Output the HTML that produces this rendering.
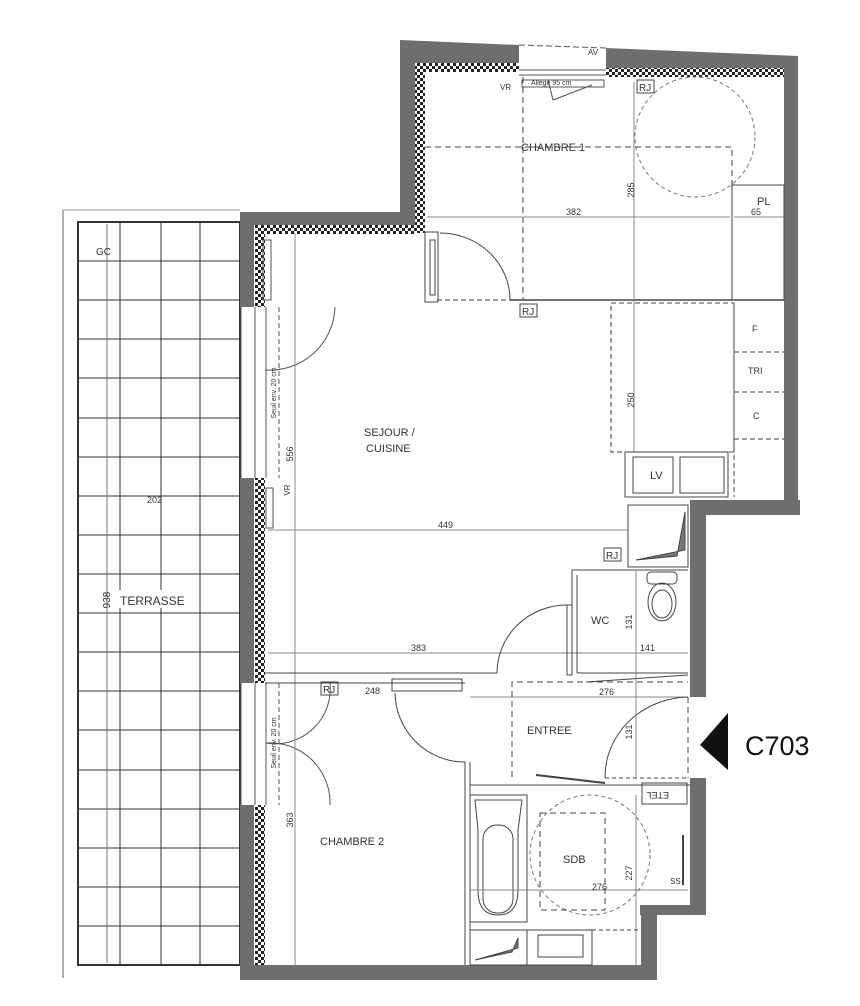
<!DOCTYPE html>
<html><head><meta charset="utf-8"><style>
html,body{margin:0;padding:0;background:#fff}
svg{display:block}
text{font-family:"Liberation Sans",sans-serif;fill:#333}
</style></head><body>
<svg width="860" height="1006" viewBox="0 0 860 1006" xmlns="http://www.w3.org/2000/svg">
<defs>
<pattern id="h" width="6" height="6" patternUnits="userSpaceOnUse">
<rect width="6" height="6" fill="#fff"/><rect width="3" height="3" fill="#222"/><rect x="3" y="3" width="3" height="3" fill="#222"/>
</pattern>
</defs>
<g stroke="#333" fill="none">
<line x1="63" y1="210" x2="240" y2="210" stroke="#999"/>
<line x1="63" y1="210" x2="63" y2="978" stroke="#666"/>
<rect x="78" y="222" width="162" height="743" stroke="#333" stroke-width="2"/>
<g stroke-width="1">
<line x1="120" y1="222" x2="120" y2="965"/><line x1="161" y1="222" x2="161" y2="965"/><line x1="200" y1="222" x2="200" y2="965"/>
<line x1="78" y1="261" x2="240" y2="261"/><line x1="78" y1="300" x2="240" y2="300"/><line x1="78" y1="339" x2="240" y2="339"/>
<line x1="78" y1="378" x2="240" y2="378"/><line x1="78" y1="418" x2="240" y2="418"/><line x1="78" y1="457" x2="240" y2="457"/>
<line x1="78" y1="496" x2="240" y2="496"/><line x1="78" y1="535" x2="240" y2="535"/><line x1="78" y1="574" x2="240" y2="574"/>
<line x1="78" y1="613" x2="240" y2="613"/><line x1="78" y1="652" x2="240" y2="652"/><line x1="78" y1="691" x2="240" y2="691"/>
<line x1="78" y1="730" x2="240" y2="730"/><line x1="78" y1="770" x2="240" y2="770"/><line x1="78" y1="809" x2="240" y2="809"/>
<line x1="78" y1="848" x2="240" y2="848"/><line x1="78" y1="887" x2="240" y2="887"/><line x1="78" y1="926" x2="240" y2="926"/>
</g>
<line x1="107" y1="224" x2="107" y2="963" stroke="#777"/>
</g>
<text x="96" y="255" font-size="10">GC</text>
<text x="147" y="503" font-size="9">202</text>
<text x="110" y="600" font-size="10" transform="rotate(-90 110 600)" text-anchor="middle">938</text>
<rect x="118" y="590" width="80" height="18" fill="#fff"/>
<text x="120" y="605" font-size="12">TERRASSE</text>

<g fill="#6e6e6e">
<rect x="240" y="212" width="14" height="95"/>
<rect x="240" y="478" width="14" height="205"/>
<rect x="240" y="805" width="14" height="175"/>
<rect x="240" y="212" width="176" height="13"/>
<rect x="400" y="43" width="15" height="190"/>
<polygon points="400,40 519,45 519,63 400,63"/>
<polygon points="606,48 798,56 798,68 606,68"/>
<rect x="784" y="56" width="14" height="456"/>
<polygon points="690,500 800,500 800,515 690,515"/>
<rect x="690" y="500" width="16" height="197"/>
<rect x="690" y="778" width="16" height="130"/>
<rect x="640" y="905" width="66" height="10"/>
<rect x="641" y="905" width="16" height="75"/>
<rect x="240" y="965" width="417" height="15"/>
</g>
<g fill="url(#h)">
<rect x="255" y="225" width="10" height="82"/>
<rect x="255" y="478" width="10" height="205"/>
<rect x="255" y="805" width="10" height="160"/>
<rect x="255" y="225" width="160" height="9"/>
<rect x="415" y="63" width="10" height="170"/>
<rect x="425" y="63" width="94" height="9"/>
<rect x="606" y="68" width="178" height="9"/>
</g>
<g stroke="#555" fill="none" stroke-width="1">
<rect x="263" y="240" width="8" height="60"/>
<line x1="255" y1="307" x2="255" y2="478"/><line x1="266" y1="307" x2="266" y2="478"/>
<line x1="255" y1="683" x2="255" y2="805"/><line x1="266" y1="683" x2="266" y2="805"/>
<line x1="241" y1="307" x2="241" y2="478"/><line x1="241" y1="683" x2="241" y2="805"/>
<line x1="279" y1="307" x2="279" y2="478" stroke-dasharray="5,3"/>
<line x1="279" y1="683" x2="279" y2="805" stroke-dasharray="5,3"/>
<rect x="266" y="488" width="7" height="40"/>
<path d="M266 370 A 65 65 0 0 0 335 307"/>
<path d="M266 743 A 55 55 0 0 0 330 683"/>
<path d="M266 743 A 60 60 0 0 1 330 805"/>
<line x1="519" y1="45" x2="606" y2="48" stroke-dasharray="6,3"/>
<line x1="519" y1="70" x2="606" y2="70"/><line x1="519" y1="75" x2="606" y2="75"/>
<rect x="522" y="80" width="82" height="7"/>
<line x1="548" y1="80" x2="553" y2="100"/><line x1="553" y1="100" x2="592" y2="85"/>
</g>
<text x="588" y="55" font-size="8">AV</text>
<text x="531" y="85" font-size="7">Allège 95 cm</text>
<text x="500" y="90" font-size="8">VR</text>

<g stroke="#444" fill="none" stroke-width="1">
<line x1="510" y1="300" x2="784" y2="300" stroke-width="1.5"/>
<line x1="437" y1="300" x2="510" y2="300" stroke-dasharray="5,3"/>
<rect x="425" y="232" width="13" height="70"/>
<rect x="430" y="240" width="5" height="55"/>
<path d="M440 233 A 70 67 0 0 1 510 300"/>
<rect x="732" y="185" width="52" height="115"/>
<circle cx="695" cy="137" r="60" stroke="#777" stroke-dasharray="4,3"/>
<path d="M425 147 H732 V185" stroke-dasharray="6,4"/>
<line x1="523" y1="77" x2="523" y2="300" stroke-dasharray="6,4"/>
<line x1="634" y1="82" x2="634" y2="452" stroke="#888"/>
<line x1="427" y1="217" x2="730" y2="217" stroke="#888"/>
<line x1="734" y1="217" x2="784" y2="217" stroke="#888"/>
<rect x="611" y="303" width="123" height="149" stroke-dasharray="5,3"/>
<line x1="734" y1="303" x2="734" y2="497" stroke-dasharray="5,3"/>
<line x1="734" y1="352" x2="784" y2="352" stroke-dasharray="5,3"/>
<line x1="734" y1="392" x2="784" y2="392" stroke-dasharray="5,3"/>
<line x1="734" y1="439" x2="784" y2="439" stroke-dasharray="5,3"/>
<rect x="625" y="452" width="103" height="45"/>
<rect x="633" y="457" width="40" height="36"/>
<rect x="680" y="457" width="44" height="36"/>
<rect x="628" y="505" width="60" height="62"/>
<polygon points="636,560 685,550 685,512 677,556" fill="#777"/>
<line x1="295" y1="233" x2="295" y2="965" stroke="#888"/>
<line x1="268" y1="530" x2="628" y2="530" stroke="#888"/>
<line x1="268" y1="653" x2="688" y2="653" stroke="#888"/>
<line x1="265" y1="673" x2="497" y2="673"/>
<line x1="265" y1="683" x2="465" y2="683"/>
<rect x="392" y="679" width="70" height="12"/>
<path d="M497 673 A 70 68 0 0 1 567 605"/>
<rect x="567" y="605" width="5" height="70"/>
<path d="M572 570 H688 M572 570 V673 M577 575 V673 M577 673 H688"/>
<line x1="586" y1="682" x2="688" y2="675"/>
<line x1="470" y1="697" x2="688" y2="697" stroke="#888"/>
<path d="M395 693 A 70 70 0 0 0 465 762"/>
<line x1="465" y1="762" x2="465" y2="790"/><line x1="470" y1="762" x2="470" y2="790"/>
<line x1="465" y1="785" x2="465" y2="965"/><line x1="470" y1="790" x2="470" y2="965"/>
<path d="M512 777 V682 H688" stroke-dasharray="6,4"/>
<path d="M536 775 L605 783" stroke-width="2"/>
<path d="M605 778 A 85 80 0 0 1 688 697"/>
<line x1="688" y1="697" x2="688" y2="778" stroke-dasharray="6,4"/>
<line x1="605" y1="778" x2="688" y2="778" stroke-dasharray="4,3"/>
<line x1="636" y1="570" x2="636" y2="778" stroke="#888"/>
<line x1="470" y1="785" x2="690" y2="785"/>
<rect x="642" y="783" width="45" height="21"/>
<rect x="470" y="795" width="57" height="127"/>
<path d="M475 800 H522 L518 830 V890 Q518 915 498 915 Q478 915 478 890 V830 Z"/>
<rect x="483" y="825" width="30" height="88" rx="14"/>
<circle cx="590" cy="855" r="60" stroke="#777" stroke-dasharray="4,3"/>
<rect x="540" y="813" width="65" height="97" stroke-dasharray="6,4"/>
<line x1="636" y1="795" x2="636" y2="965" stroke="#888"/>
<line x1="470" y1="890" x2="688" y2="890" stroke="#888"/>
<rect x="470" y="930" width="57" height="35"/>
<polygon points="475,960 518,948 518,938 512,952" fill="#777"/>
<rect x="527" y="930" width="65" height="35"/>
<rect x="538" y="935" width="45" height="22"/>
<line x1="592" y1="930" x2="640" y2="930" stroke-dasharray="4,3"/>
<line x1="592" y1="930" x2="592" y2="965" stroke-dasharray="4,3"/>
<line x1="683" y1="835" x2="683" y2="885" stroke-width="2"/>
</g>
<g font-size="10" fill="none" stroke="#444">
<rect x="637" y="80" width="17" height="13"/><rect x="520" y="304" width="17" height="13"/>
<rect x="604" y="548" width="17" height="13"/><rect x="321" y="682" width="17" height="13"/>
</g>
<g font-size="10">
<text x="639" y="91">RJ</text><text x="522" y="315">RJ</text><text x="606" y="559">RJ</text><text x="323" y="693">RJ</text>
</g>
<g font-size="11">
<text x="521" y="151">CHAMBRE 1</text>
<text x="364" y="436">SEJOUR /</text>
<text x="366" y="452">CUISINE</text>
<text x="591" y="624">WC</text>
<text x="527" y="734">ENTREE</text>
<text x="320" y="845">CHAMBRE 2</text>
<text x="563" y="863">SDB</text>
<text x="757" y="205">PL</text>
<text x="752" y="332" font-size="9">F</text>
<text x="748" y="374" font-size="9">TRI</text>
<text x="753" y="419" font-size="9">C</text>
<text x="650" y="479">LV</text>
</g>
<g font-size="9">
<text x="566" y="215">382</text><text x="751" y="215">65</text>
<text x="438" y="528">449</text><text x="411" y="651">383</text>
<text x="365" y="694">248</text><text x="599" y="695">276</text>
<text x="640" y="651">141</text><text x="592" y="890">276</text>
<text x="659" y="802" transform="rotate(180 664 797)" font-size="9">ETEL</text>
<text x="670" y="884" font-size="8">SS</text>
<g text-anchor="middle">
<text x="0" y="0" transform="translate(634 190) rotate(-90)">285</text>
<text x="0" y="0" transform="translate(634 400) rotate(-90)">250</text>
<text x="0" y="0" transform="translate(293 454) rotate(-90)">556</text>
<text x="0" y="0" transform="translate(293 820) rotate(-90)">363</text>
<text x="0" y="0" transform="translate(632 622) rotate(-90)">131</text>
<text x="0" y="0" transform="translate(632 732) rotate(-90)">131</text>
<text x="0" y="0" transform="translate(632 873) rotate(-90)">227</text>
<text x="0" y="0" transform="translate(290 490) rotate(-90)" font-size="8">VR</text>
<text x="0" y="0" transform="translate(276 393) rotate(-90)" font-size="7">Seuil env. 20 cm</text>
<text x="0" y="0" transform="translate(276 743) rotate(-90)" font-size="7">Seuil env. 20 cm</text>
</g>
</g>
<g stroke="#444" fill="none">
<rect x="647" y="572" width="30" height="12" rx="4"/>
<ellipse cx="662" cy="602" rx="14" ry="19"/>
<ellipse cx="662" cy="604" rx="10" ry="14"/>
</g>
<polygon points="700,745 728,713 728,770" fill="#111"/>
<text x="745" y="755" font-size="27" style="fill:#111">C703</text>
</svg>
</body></html>
